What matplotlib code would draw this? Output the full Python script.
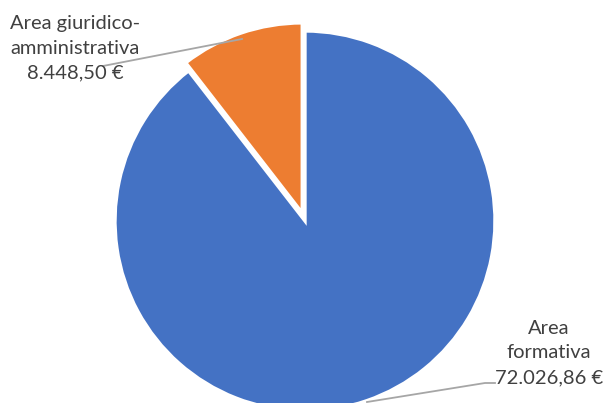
import matplotlib
matplotlib.use("Agg")
import matplotlib.pyplot as plt

categories = ["Area formativa", "Area giuridico-\namministrativa"]
values = [72026.86, 8448.50]
colors = ["#4472C4", "#ED7D31"]
value_labels = ["72.026,86 €", "8.448,50 €"]

W, H = 603, 403
fig = plt.figure(figsize=(W / 100, H / 100), dpi=100)
ax = fig.add_axes([0, 0, 1, 1])

ax.pie(values, colors=colors, startangle=90, counterclock=False,
       center=(305, 182), radius=190, explode=[0, 0.045 * 190],
       wedgeprops=dict(edgecolor="white", linewidth=2.4), frame=True)
ax.set_xlim(0, W)
ax.set_ylim(0, H)
ax.axis("off")

txt_kw = dict(ha="center", va="center", fontsize=14.5, color="#404040",
              family=["Lato", "DejaVu Sans"], linespacing=1.55)

# label for the small slice (upper left)
ax.text(75, 355, f"{categories[1]}\n{value_labels[1]}", **txt_kw)
ax.plot([103, 242], [H - 66, H - 39], color="#A6A6A6", lw=1.3)

# label for the large slice (lower right)
ax.text(549, 50, f"Area\nformativa\n{value_labels[0]}", **txt_kw)
ax.plot([367, 485, 495], [H - 402, H - 383, H - 383], color="#A6A6A6", lw=1.3)

fig.savefig("out.png", dpi=100)
